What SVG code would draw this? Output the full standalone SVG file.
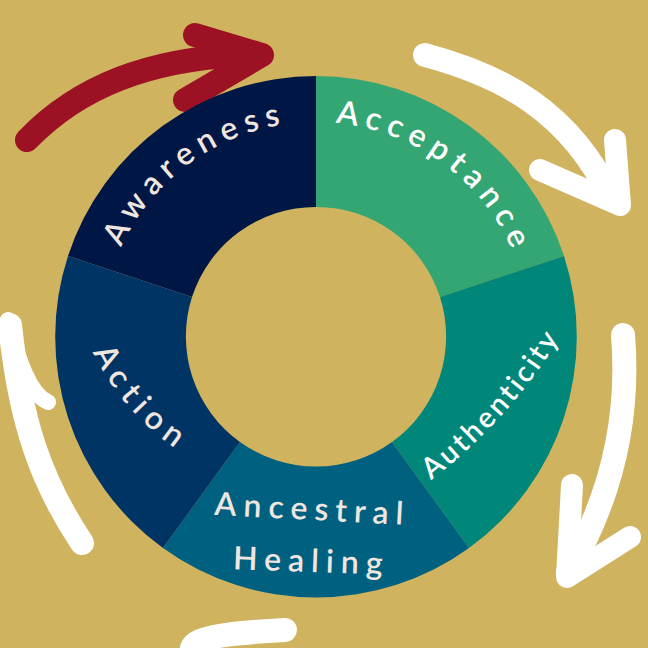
<svg xmlns="http://www.w3.org/2000/svg" width="648" height="648" viewBox="0 0 648 648">
<defs>
<style>
.lbl{font-family:Lato,"Noto Sans",sans-serif;font-size:32px;fill:#f0e6e0;letter-spacing:7px;font-weight:600}
.arw{fill:none;stroke-linecap:round;stroke-linejoin:round}
</style>
<path id="pAw" d="M 111,274 A 215,215 0 0 1 316,122"/>
<path id="pAc" d="M 316,122 A 215,215 0 0 1 521,274"/>
<path id="pAu" d="M 380,515 Q 520,430 590,282"/>
<path id="pAc2" d="M 80,320 Q 112,418 210,470"/>
</defs>
<rect width="648" height="648" fill="#cfb35e"/>
<g id="connectors">
<g class="arw" stroke="#9c1224">
<path d="M 27,140 C 80,85 150,60 240,55" stroke-width="24"/>
<path d="M 195,35 L 262,55 L 185,100" stroke-width="24"/>
</g>
<g class="arw" stroke="#ffffff">
<path d="M 425,55 C 500,75 570,110 612,200" stroke-width="24"/>
<path d="M 615,140 L 620,205 L 540,170" stroke-width="22"/>
<path d="M 623,335 C 630,420 610,500 568,572" stroke-width="24"/>
<path d="M 572,485 L 567,577 L 630,537" stroke-width="22"/>
<path d="M 10,325 C 20,420 40,480 82,543" stroke-width="24"/>
<path d="M 8,320 C 20,370 32,395 48,402" stroke-width="16"/>
<path d="M 192,648 C 195,637 230,633 285,630" stroke-width="24"/>
</g>
</g>
<g id="awareness">
<path d="M 316,76 A 261,261 0 0 0 68,256 L 192,297 A 130,130 0 0 1 316,207 Z" fill="#001644"/>
<text class="lbl"><textPath href="#pAw" startOffset="50%" text-anchor="middle">Awareness</textPath></text>
</g>
<g id="acceptance">
<path d="M 316,76 A 261,261 0 0 1 564,256 L 440,297 A 130,130 0 0 0 316,207 Z" fill="#33a673"/>
<text class="lbl" style="fill:#fff"><textPath href="#pAc" startOffset="50%" text-anchor="middle">Acceptance</textPath></text>
</g>
<g id="authenticity">
<path d="M 564,256 A 261,261 0 0 1 469,548 L 392,442 A 130,130 0 0 0 440,297 Z" fill="#00877a"/>
<text class="lbl" style="fill:#fff;font-size:29px;letter-spacing:3px"><textPath href="#pAu" startOffset="50%" text-anchor="middle">Authenticity</textPath></text>
</g>
<g id="ancestral-healing">
<path d="M 469,548 A 261,261 0 0 1 163,548 L 240,442 A 130,130 0 0 0 392,442 Z" fill="#006080"/>
<text class="lbl" x="312" y="520" text-anchor="middle" transform="rotate(3 312 520)">Ancestral</text>
<text class="lbl" x="311" y="572" text-anchor="middle" transform="rotate(2 311 572)">Healing</text>
</g>
<g id="action">
<path d="M 163,548 A 261,261 0 0 1 68,256 L 192,297 A 130,130 0 0 0 240,442 Z" fill="#003464"/>
<text class="lbl"><textPath href="#pAc2" startOffset="50%" text-anchor="middle">Action</textPath></text>
</g>
</svg>
